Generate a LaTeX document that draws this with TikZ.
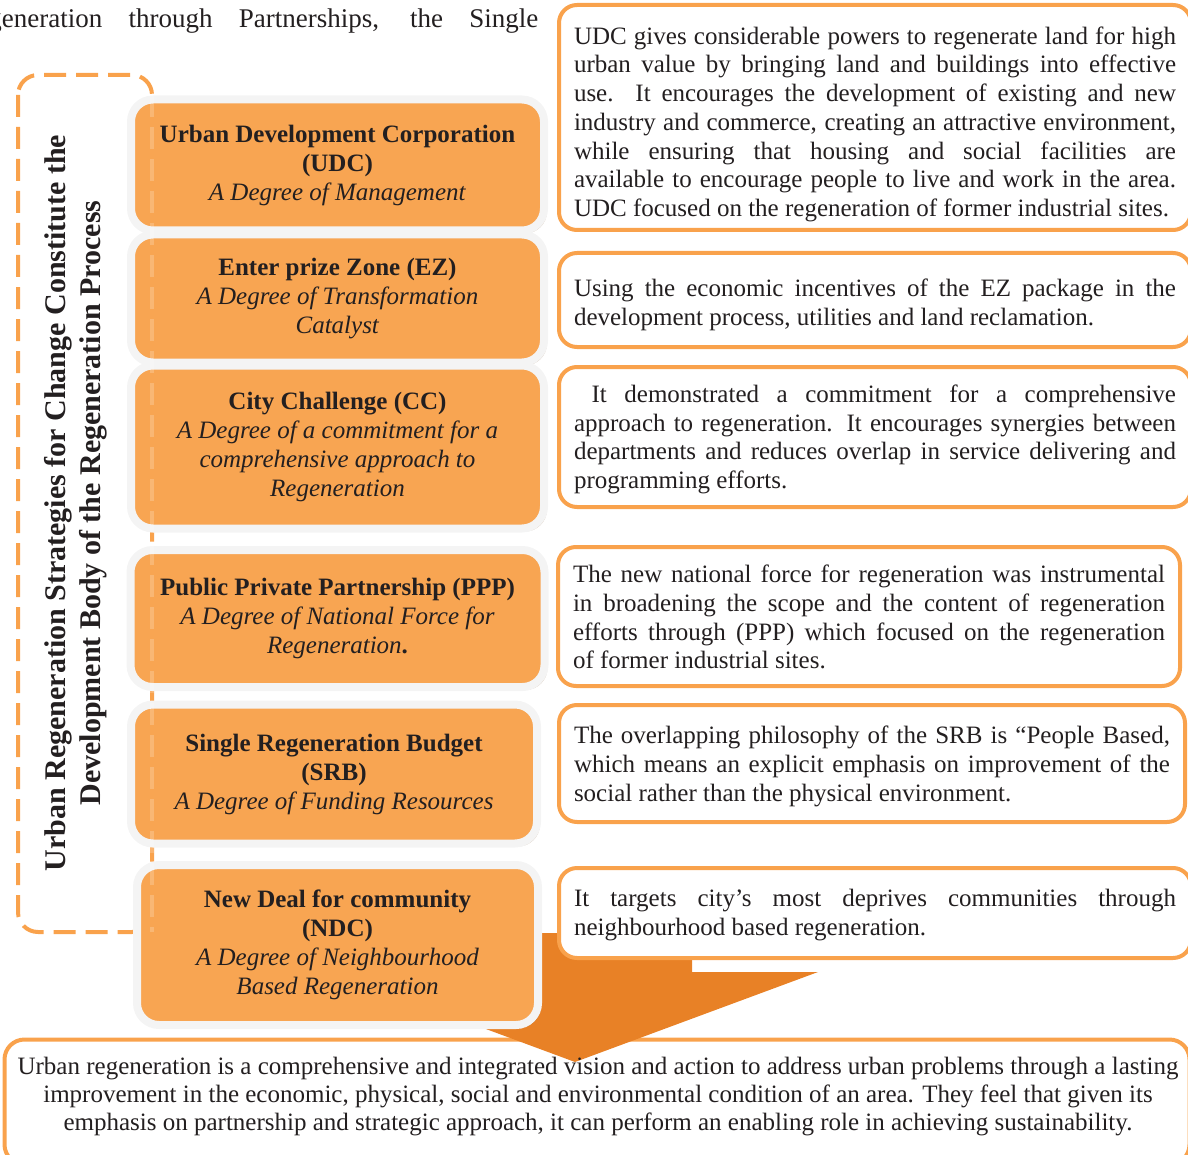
\documentclass[tikz,border=0pt]{standalone}
\usepackage{fontspec}
\setmainfont{Liberation Serif}
\usetikzlibrary{shadows}
\definecolor{boxorange}{RGB}{248,165,82}
\definecolor{lineorange}{RGB}{249,162,76}
\definecolor{arroworange}{RGB}{232,129,38}
\definecolor{rimgray}{RGB}{244,244,244}
\definecolor{inkdark}{RGB}{35,31,32}
\begin{document}
\begin{tikzpicture}[x=0.5pt,y=-0.5pt,
    leftbox/.style={draw=rimgray,line width=4pt,fill=boxorange,rounded corners=11pt,
        inner sep=0pt,align=center,text=inkdark,font=\fontsize{12.5}{14.5}\selectfont,
        drop shadow={shadow xshift=1.5pt,shadow yshift=-1.5pt,opacity=0.3,fill=brown!70!black}},
    notebox/.style={draw=lineorange,line width=2pt,fill=white,rounded corners=9pt,
        inner xsep=7.5pt,inner ysep=0pt,text width=301pt,align=justify,text=inkdark,
        font=\fontsize{12.5}{14.35}\selectfont},
    textlower/.style={execute at begin node={\rule{0pt}{#1}}},
    dashframe/.style={draw=lineorange,line width=2pt,rounded corners=10pt,dash pattern=on 11pt off 5pt}]
    \useasboundingbox (0,0) rectangle (1188,1155);

    % page text above the figure
    \node[anchor=base west,inner sep=0pt,text=inkdark,font=\fontsize{13.5}{16}\selectfont] (pagetext) at (-12,28)
        {\makebox[275pt][s]{generation through Partnerships, the Single}};

    \draw[dashframe] (18,75) rectangle (152,932);

    % summary at the bottom
    \node[draw=lineorange,line width=2pt,fill=white,rounded corners=10pt,minimum width=592.5pt,minimum height=62.5pt] (summary) at (597,1102) {};
    \fill[arroworange] (456,933) -- (692,933) -- (692,972) -- (818,972) -- (575,1062) -- (332,972) -- (456,972) -- cycle;
    \node[align=center,text=inkdark,font=\fontsize{12.5}{14}\selectfont] (summarytext) at (598,1097)
        {Urban regeneration is a comprehensive and integrated vision and action to address urban problems through a lasting\\
         improvement in the economic, physical, social and environmental condition of an area. They feel that given its\\
         emphasis on partnership and strategic approach, it can perform an enabling role in achieving sustainability.};

    % notes on the right
    \node[notebox,textlower=15.6pt,minimum height=112.5pt] (udcnote) at (875,117.5)
        {UDC gives considerable powers to regenerate land for high\linebreak
         urban value by bringing land and buildings into effective\linebreak
         use. It encourages the development of existing and new\linebreak
         industry and commerce, creating an attractive environment,\linebreak
         while ensuring that housing and social facilities are\linebreak
         available to encourage people to live and work in the area.\linebreak
         UDC focused on the regeneration of former industrial sites.};
    \node[notebox,textlower=13.6pt,minimum height=47pt] (eznote) at (875,300)
        {Using the economic incentives of the EZ package in the\linebreak
         development process, utilities and land reclamation.};
    \node[notebox,textlower=11.1pt,minimum height=70pt] (ccnote) at (875,437)
        {\ It demonstrated a commitment for a comprehensive\linebreak
         approach to regeneration. It encourages synergies between\linebreak
         departments and reduces overlap in service delivering and\linebreak
         programming efforts.};
    \node[notebox,textlower=9.6pt,text width=296pt,minimum height=69.5pt] (pppnote) at (869,616.5)
        {The new national force for regeneration was instrumental\linebreak
         in broadening the scope and the content of regeneration\linebreak
         efforts through (PPP) which focused on the regeneration\linebreak
         of former industrial sites.};
    \node[notebox,textlower=11.6pt,text width=298pt,minimum height=58.5pt] (srbnote) at (872,763.5)
        {The overlapping philosophy of the SRB is “People Based,\linebreak
         which means an explicit emphasis on improvement of the\linebreak
         social rather than the physical environment.};
    \node[notebox,textlower=10.6pt,minimum height=45pt] (ndcnote) at (875,913)
        {It targets city’s most deprives communities through\linebreak
         neighbourhood based regeneration.};

    % strategies on the left
    \node[leftbox,minimum width=206.5pt,minimum height=65.5pt] (udc) at (337.5,165)
        {\textbf{Urban Development Corporation}\\\textbf{(UDC)}\\\textit{A Degree of Management}};
    \node[leftbox,minimum width=206.5pt,minimum height=64pt] (ez) at (337.5,298.5)
        {\textbf{Enter prize Zone (EZ)}\\\textit{A Degree of Transformation}\\\textit{Catalyst}};
    \node[leftbox,minimum width=206.5pt,minimum height=81.5pt] (cc) at (337.5,447)
        {\textbf{City Challenge (CC)}\\\textit{A Degree of a commitment for a}\\\textit{comprehensive approach to}\\\textit{Regeneration}};
    \node[leftbox,minimum width=207pt,minimum height=68.5pt] (ppp) at (337.5,618.5)
        {\textbf{Public Private Partnership (PPP)}\\\textit{A Degree of National Force for}\\\textit{Regeneration}\textbf{.}};
    \node[leftbox,minimum width=203pt,minimum height=69.5pt] (srb) at (334,774)
        {\textbf{Single Regeneration Budget}\\\textbf{(SRB)}\\\textit{A Degree of Funding Resources}};
    \node[leftbox,minimum width=200.5pt,minimum height=80pt] (ndc) at (337.5,945)
        {\textbf{New Deal for community}\\\textbf{(NDC)}\\\textit{A Degree of Neighbourhood}\\\textit{Based Regeneration}};

    \draw[white,opacity=0.2,line width=2pt,dash pattern=on 11pt off 5pt] (152,95) -- (152,932);

    \node[rotate=90,align=center,text=inkdark,font=\bfseries\fontsize{15}{17.5}\selectfont] (frametitle) at (76,503)
        {Urban Regeneration Strategies for Change Constitute the\\Development Body of the Regeneration Process};
\end{tikzpicture}
\end{document}
